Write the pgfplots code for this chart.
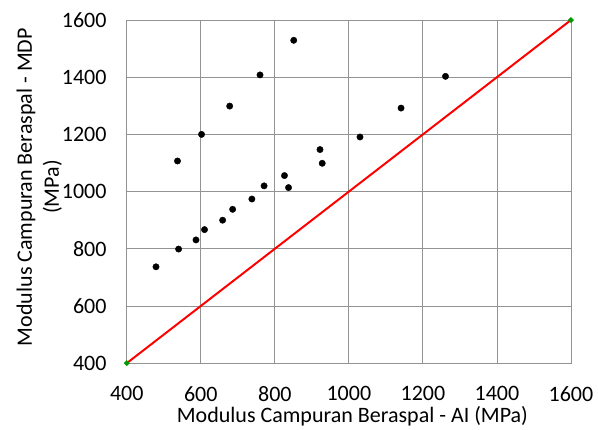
\documentclass[border=0pt]{standalone}
\usepackage{pgfplots}
\pgfplotsset{compat=1.18}
\usepackage{fontspec}
\setmainfont{Carlito}
\begin{document}
\begin{tikzpicture}[font=\fontsize{22bp}{24bp}\selectfont]
\begin{axis}[
    scale only axis,
    width=444bp,
    height=343bp,
    xmin=400, xmax=1600,
    ymin=400, ymax=1600,
    xtick={400,600,...,1600},
    ytick={400,600,...,1600},
    grid=major,
    grid style={gray!85, line width=0.9pt},
    axis line style={gray!85, line width=0.9pt},
    tick style={draw=none},
    xlabel={Modulus Campuran Beraspal - AI (MPa)},
    ylabel={Modulus Campuran Beraspal - MDP\\(MPa)},
    xlabel style={at={(axis description cs:0.508,-0.172)}, anchor=base, inner sep=0pt},
    ylabel style={at={(axis description cs:-0.197,0.513)}, anchor=center, inner sep=0pt,
        align=center, font=\fontsize{22bp}{27bp}\selectfont},
    xticklabel style={anchor=north, inner sep=0pt, yshift=-23bp},
    yticklabel style={anchor=east, inner sep=0pt, xshift=-20bp},
    /pgf/number format/assume math mode=true,
    /pgf/number format/1000 sep={},
    clip=false,
]
\addplot[red, line width=2pt, mark=*, mark size=1.6pt,
    mark options={fill=green!60!black, draw=green!60!black}]
    coordinates {(400,400) (1600,1600)};
\addplot[only marks, mark=*, mark size=3.2pt, black]
    coordinates {
    (479,737) (537,1107) (540,799) (587,831) (602,1200)
    (610,867) (659,900) (678,1299) (686,938) (738,974)
    (760,1408) (771,1020) (826,1056) (837,1014) (851,1529)
    (922,1147) (928,1099) (1030,1191) (1141,1292) (1261,1403)
    };
\end{axis}
\pgfresetboundingbox
\path ([shift={(-126.7bp,-66bp)}]current axis.south west)
    rectangle ([shift={(27bp,20bp)}]current axis.north east);
\end{tikzpicture}
\end{document}
